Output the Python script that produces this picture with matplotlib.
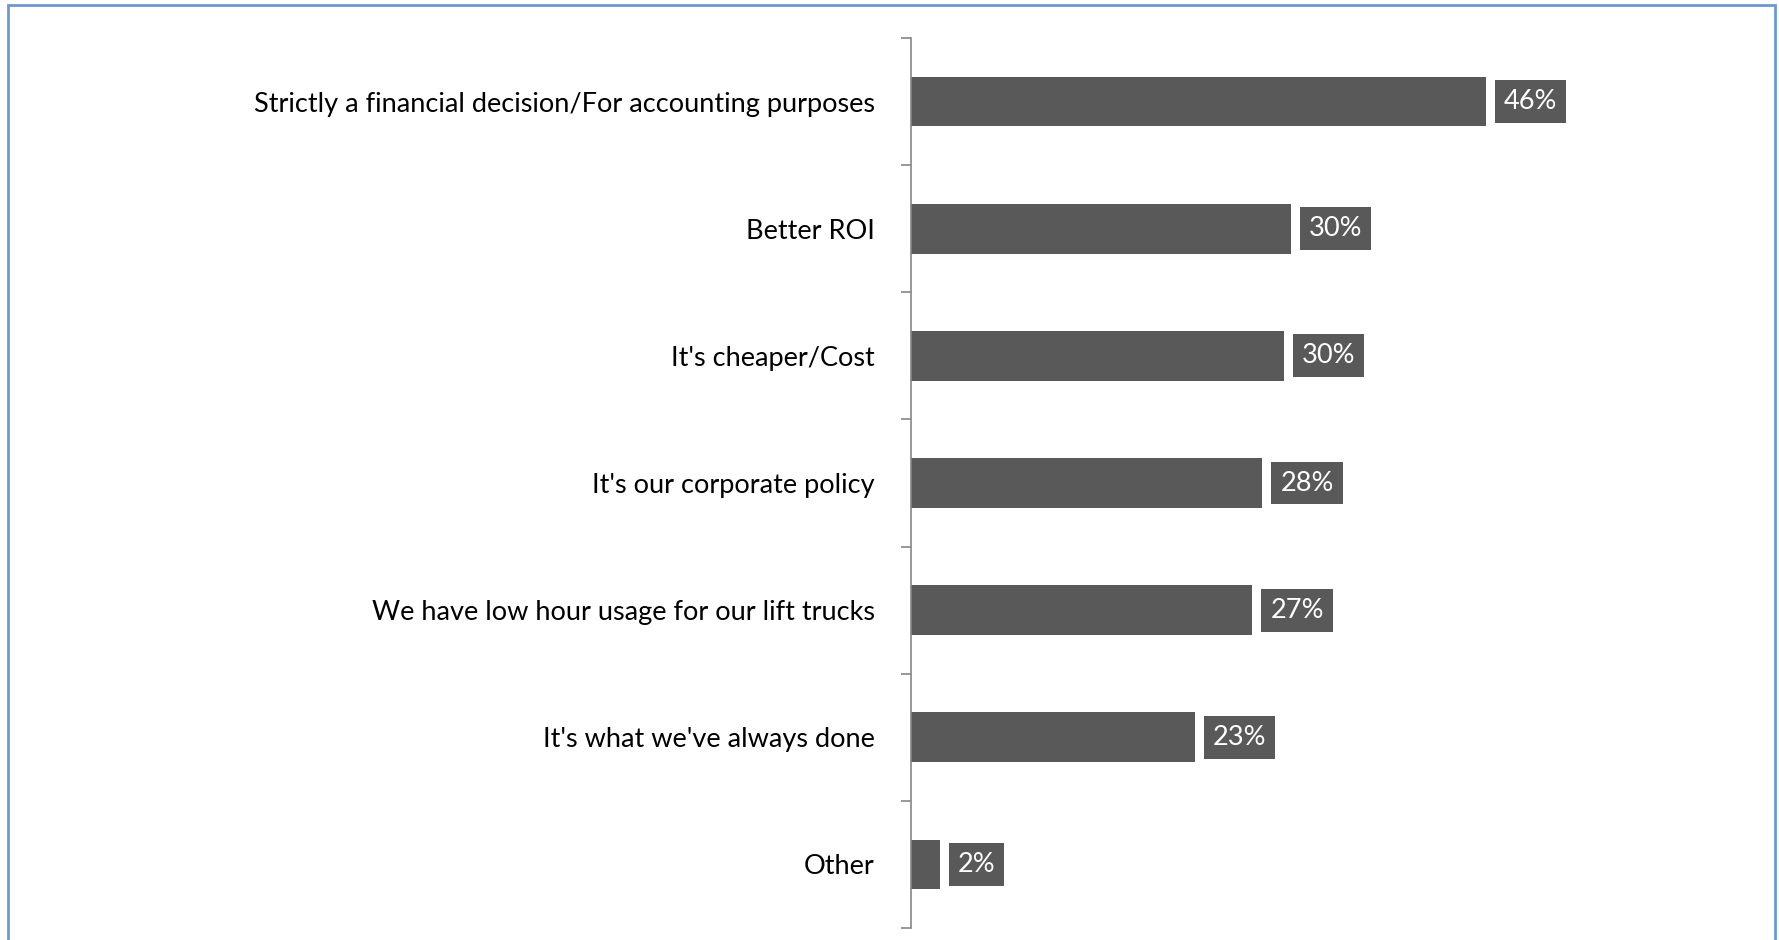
import numpy as np
import matplotlib.pyplot as plt
from matplotlib.patches import Rectangle

# Daten
categories = ["Strictly a financial decision/For accounting purposes",
              "Better ROI",
              "It's cheaper/Cost",
              "It's our corporate policy",
              "We have low hour usage for our lift trucks",
              "It's what we've always done",
              "Other"]
values = [46.0, 30.4, 29.8, 28.1, 27.3, 22.7, 2.3]
labels = ["46%", "30%", "30%", "28%", "27%", "23%", "2%"]

plt.rcParams['font.family'] = ['Lato', 'DejaVu Sans']

W, H = 1779, 940
fig = plt.figure(figsize=(W / 100, H / 100), dpi=100)
ax = fig.add_axes([911 / W, 12 / H, 750 / W, 890 / H])

y = np.arange(len(categories))
ax.barh(y, values, height=0.39, color='#595959')
ax.set_ylim(len(categories) - 0.5, -0.5)
ax.set_xlim(0, 60)

# Datenbeschriftungen
for yi, v, lab in zip(y, values, labels):
    ax.annotate(lab, (v, yi), xytext=(18, 0), textcoords='offset pixels',
                ha='left', va='center', color='white', fontsize=19.5,
                bbox=dict(boxstyle='square,pad=0.33', fc='#595959', ec='none'))

ax.set_yticks(y)
ax.set_yticklabels(categories, fontsize=19.5, color='black')
ax.set_yticks(np.arange(-0.5, len(categories)), minor=True)
ax.tick_params(axis='y', which='major', length=0, pad=26)
ax.tick_params(axis='y', which='minor', length=7, width=1.2, color='#868686', direction='out')
ax.set_xticks([])
for s in ['top', 'right', 'bottom']:
    ax.spines[s].set_visible(False)
ax.spines['left'].set_color('#868686')
ax.spines['left'].set_linewidth(1.2)

# Rahmen
fig.patches.append(Rectangle((8 / W, -0.05), (1775 - 8) / W, 1.05 - 5 / H,
                             transform=fig.transFigure, fill=False,
                             ec='#6E97CF', lw=2, zorder=10))

fig.savefig('out.png', dpi=100)
